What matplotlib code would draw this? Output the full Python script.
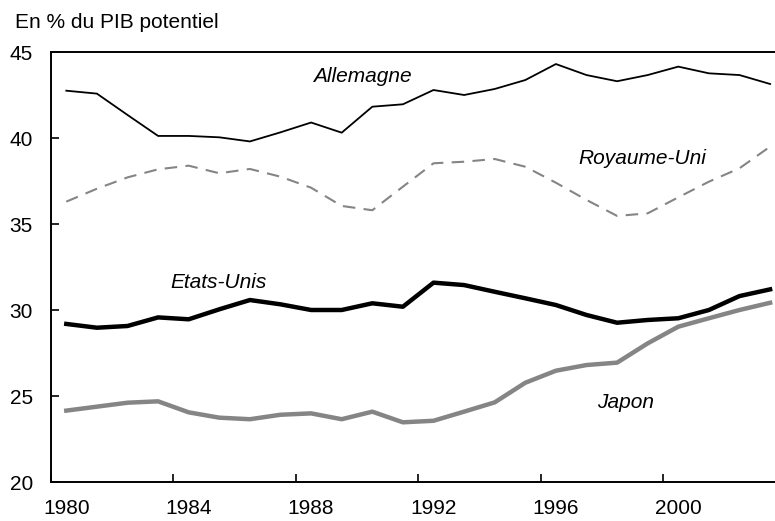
import numpy as np
import matplotlib.pyplot as plt

plt.rcParams['font.family'] = ['Liberation Sans', 'DejaVu Sans']

# Données (en % du PIB potentiel), 1980-2003
annees = np.arange(1980, 2004)
allemagne = [42.75, 42.58, 41.34, 40.12, 40.12, 40.04, 39.80, 40.33, 40.90, 40.31,
             41.82, 41.96, 42.79, 42.50, 42.85, 43.37, 44.30, 43.66, 43.30, 43.66,
             44.15, 43.76, 43.66, 43.14]
royaume_uni = [36.30, 37.05, 37.71, 38.18, 38.39, 37.95, 38.20, 37.75, 37.11, 36.05,
               35.80, 37.17, 38.53, 38.62, 38.78, 38.33, 37.40, 36.40, 35.47, 35.62,
               36.55, 37.46, 38.24, 39.50]
etats_unis = [29.19, 28.97, 29.07, 29.57, 29.46, 30.04, 30.58, 30.33, 30.00, 30.00,
              30.39, 30.19, 31.59, 31.45, 31.06, 30.68, 30.29, 29.71, 29.26, 29.42,
              29.52, 30.00, 30.81, 31.20]
japon = [24.15, 24.38, 24.61, 24.69, 24.05, 23.74, 23.65, 23.91, 23.99, 23.65,
         24.09, 23.47, 23.56, 24.09, 24.63, 25.77, 26.47, 26.80, 26.94, 28.06,
         29.03, 29.52, 30.00, 30.42]
labels_x = ['1980', '1984', '1988', '1992', '1996', '2000']
gris = '#858585'

fig = plt.figure(figsize=(7.75, 5.21), dpi=100)
ax = fig.add_axes([51/775, 39/521, 724/775, 430/521])

# points au milieu de l'année (axe par catégories)
x = annees + 0.5
ax.plot(x, allemagne, color='black', lw=1.3)
ax.plot(x, royaume_uni, color=gris, lw=1.5, dashes=(6, 4))
ax.plot(x, etats_unis, color='black', lw=3.2)
ax.plot(x, japon, color=gris, lw=3.2)

ax.set_xlim(1980, 1980 + 724/30.6)
ax.set_ylim(20, 45)

# traits de graduation aux bords des catégories, libellés au centre
ax.set_xticks(np.arange(1980, 2004, 4))
ax.set_xticklabels([])
ax.set_xticks(np.arange(1980, 2004, 4) + 0.5, minor=True)
ax.set_xticklabels(labels_x, minor=True, fontsize=15)
ax.tick_params(axis='x', which='major', direction='in', length=6, width=1.2)
ax.tick_params(axis='x', which='minor', length=0, pad=12)
ax.set_yticks(np.arange(20, 46, 5))
ax.tick_params(axis='y', direction='in', length=6, width=1.2, labelsize=15, pad=13)

for s in ['left', 'bottom', 'top']:
    ax.spines[s].set_linewidth(1.4)
ax.spines['right'].set_visible(False)

ax.text(1990.16, 43.6, 'Allemagne', style='italic', fontsize=15, ha='center', va='center')
ax.text(1999.31, 38.78, 'Royaume-Uni', style='italic', fontsize=15, ha='center', va='center')
ax.text(1985.46, 31.57, 'Etats-Unis', style='italic', fontsize=15, ha='center', va='center')
ax.text(1998.79, 24.6, 'Japon', style='italic', fontsize=15, ha='center', va='center')

fig.text(15/775, 1 - 23/521, 'En % du PIB potentiel', fontsize=15, ha='left', va='center')

fig.savefig('out.png', dpi=100)
